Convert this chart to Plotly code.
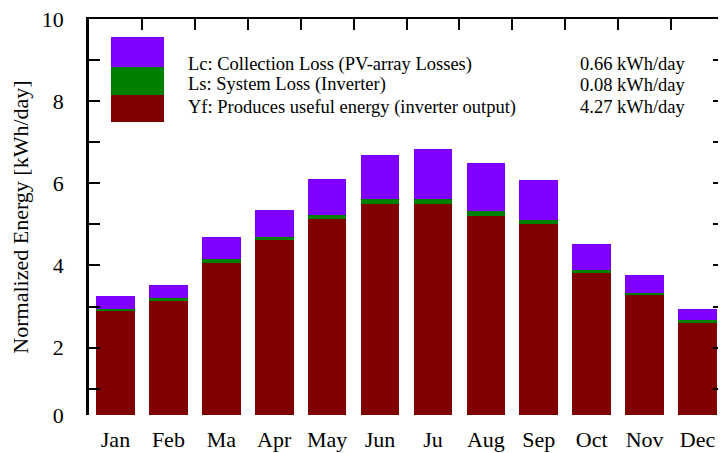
import plotly.graph_objects as go

months = ["Jan", "Feb", "Ma", "Apr", "May", "Jun", "Ju", "Aug", "Sep", "Oct", "Nov", "Dec"]
yf_values = [2.89, 3.14, 4.06, 4.61, 5.13, 5.50, 5.50, 5.21, 5.02, 3.82, 3.28, 2.59]
ls_values = [0.06, 0.06, 0.10, 0.08, 0.11, 0.11, 0.11, 0.11, 0.09, 0.08, 0.06, 0.08]
lc_values = [0.31, 0.32, 0.53, 0.66, 0.87, 1.07, 1.22, 1.17, 0.97, 0.62, 0.42, 0.26]

legend_labels = ["Lc: Collection Loss (PV-array Losses)",
                 "Ls: System Loss (Inverter)",
                 "Yf: Produces useful energy (inverter output)"]
legend_values = ["0.66 kWh/day", "0.08 kWh/day", "4.27 kWh/day"]

y_tick_vals = [0.36, 2, 4, 6, 8, 10]
y_tick_text = ["0", "2", "4", "6", "8", "10"]
y_minor_vals = [1, 3, 5, 7, 9]
y_right_vals = [1, 2, 3, 4, 5, 6, 7, 8, 9]

c_yf = "#800000"
c_ls = "#008000"
c_lc = "#8000ff"

FONT = "Liberation Serif"

fig = go.Figure()
for vals, col, name in [(yf_values, c_yf, "Yf"), (ls_values, c_ls, "Ls"), (lc_values, c_lc, "Lc")]:
    fig.add_trace(go.Bar(x=list(range(len(months))), y=vals, marker=dict(color=col, line=dict(width=0)),
                         name=name, showlegend=False))

# page body has an 8px margin: figure occupies window pixels 8..726 x 8..453
OFF = 8
W, H = 726 - OFF, 453 - OFF
L, R, T, B = 89 - OFF, 2, 19 - OFF, 38
pw, ph = W - L - R, H - T - B

def px(x):
    return (x - OFF - L) / pw

def py(y):
    return (H - B - (y - OFF)) / ph

fig.update_layout(
    width=W, height=H,
    margin=dict(l=L, r=R, t=T, b=B, autoexpand=False),
    barmode="stack", bargap=0.27,
    plot_bgcolor="white", paper_bgcolor="white",
    font=dict(family=FONT, size=22, color="black"),
    xaxis=dict(range=[-0.5, 11.5], tickvals=list(range(12)), ticktext=months,
               ticks="", showline=False, showgrid=False, zeroline=False, automargin=False,
               ticklabelstandoff=9, ticklabeloverflow="allow", tickfont=dict(size=22)),
    xaxis2=dict(range=[-0.5, 11.5], overlaying="x", side="top", anchor="y",
                tickvals=[i + 0.5 for i in range(11)], ticks="inside", ticklen=11,
                tickwidth=1.5, tickcolor="black", showticklabels=False, automargin=False,
                showline=True, linecolor="black", linewidth=2, showgrid=False, zeroline=False),
    yaxis=dict(range=[0.36, 10], tickvals=y_tick_vals, ticktext=y_tick_text,
               ticks="inside", ticklen=11, tickwidth=1.5, tickcolor="black",
               minor=dict(tickvals=y_minor_vals, ticks="inside", ticklen=11, tickwidth=1.5, tickcolor="black"),
               showline=True, linecolor="black", linewidth=2.5, showgrid=False, zeroline=False,
               ticklabelstandoff=18, automargin=False, ticklabeloverflow="allow",
               title=dict(text="Normalized Energy [kWh/day]", font=dict(size=22), standoff=18),
               tickfont=dict(size=22)),
    yaxis2=dict(range=[0.36, 10], overlaying="y", side="right", anchor="x",
                tickvals=y_right_vals, ticks="inside", ticklen=11, tickwidth=1.5, automargin=False,
                tickcolor="black", showticklabels=False, showline=True, linecolor="black",
                linewidth=2, showgrid=False, zeroline=False),
)

# invisible trace to activate the secondary (frame) axes
fig.add_trace(go.Scatter(x=[0], y=[1], xaxis="x2", yaxis="y2", mode="markers",
                         marker=dict(opacity=0), showlegend=False, hoverinfo="skip"))

# custom legend patch (stacked colour block)
patch = [(37, 67, c_lc), (67, 95, c_ls), (95, 122, c_yf)]
for y0, y1, col in patch:
    fig.add_shape(type="rect", xref="paper", yref="paper",
                  x0=px(111), x1=px(164), y0=py(y1), y1=py(y0),
                  fillcolor=col, line=dict(width=0), layer="above")

rows_y = [64, 85, 107]
for lab, val, ry in zip(legend_labels, legend_values, rows_y):
    fig.add_annotation(xref="paper", yref="paper", x=px(186), y=py(ry), text=lab,
                       showarrow=False, xanchor="left", yanchor="middle",
                       font=dict(family=FONT, size=18.5, color="black"))
    fig.add_annotation(xref="paper", yref="paper", x=px(688), y=py(ry), text=val,
                       showarrow=False, xanchor="right", yanchor="middle",
                       font=dict(family=FONT, size=18.5, color="black"))

fig.write_html("out.html")
